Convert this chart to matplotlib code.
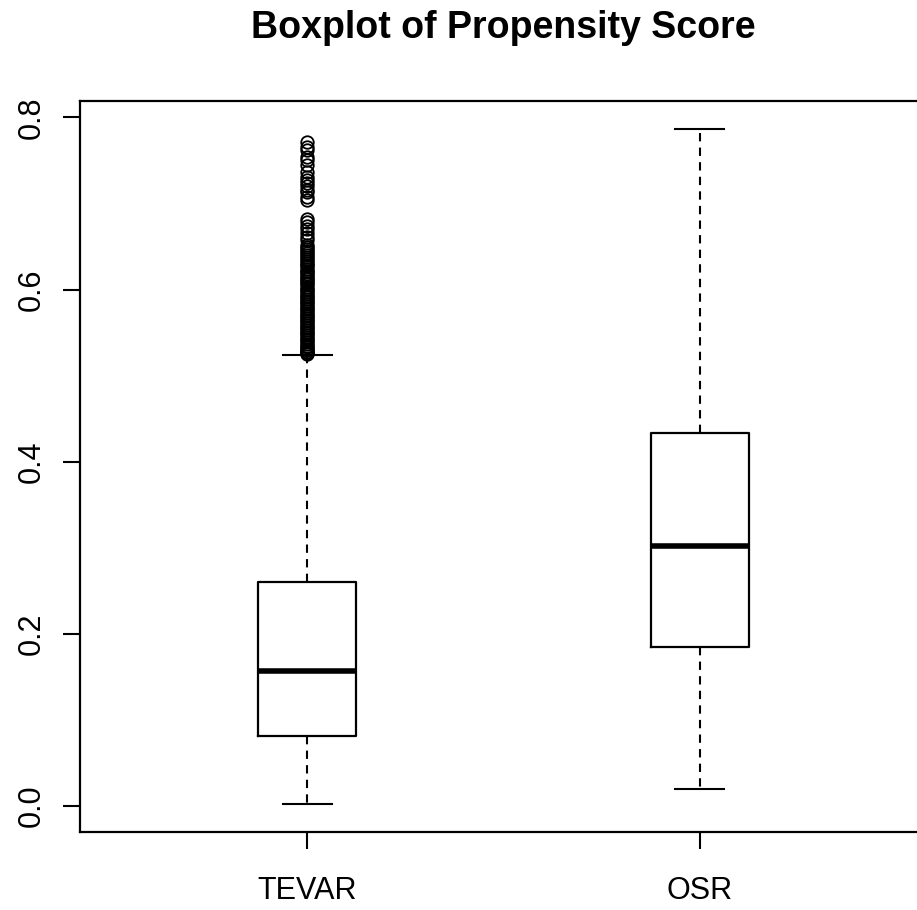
import matplotlib
matplotlib.use("Agg")
import matplotlib.pyplot as plt

plt.rcParams['font.family'] = ['Liberation Sans', 'DejaVu Sans']

categories = ["TEVAR", "OSR"]
q1 = [0.081, 0.185]
median = [0.157, 0.302]
q3 = [0.260, 0.433]
whisker_low = [0.002, 0.020]
whisker_high = [0.524, 0.787]
tevar_outliers = [0.771, 0.766, 0.762, 0.754, 0.750, 0.745, 0.736, 0.731, 0.727,
                  0.724, 0.720, 0.716, 0.713, 0.708, 0.704,
                  0.682, 0.678, 0.674, 0.670, 0.666, 0.661, 0.657, 0.652, 0.650,
                  0.647, 0.645, 0.642, 0.640, 0.638, 0.636, 0.633, 0.631, 0.629,
                  0.627, 0.624, 0.622, 0.620, 0.618, 0.616, 0.614, 0.612, 0.610,
                  0.608, 0.606, 0.603, 0.601, 0.599, 0.597, 0.595, 0.593, 0.591,
                  0.589, 0.587, 0.585, 0.583, 0.581, 0.579, 0.577, 0.575, 0.573,
                  0.571, 0.569, 0.567, 0.565, 0.563, 0.561, 0.559, 0.557, 0.555,
                  0.553, 0.551, 0.549, 0.547, 0.545, 0.543, 0.541, 0.539, 0.537,
                  0.535, 0.533, 0.531, 0.530, 0.528, 0.527, 0.526, 0.525]
osr_outliers = []
fliers = [tevar_outliers, osr_outliers]
yticks = [0.0, 0.2, 0.4, 0.6, 0.8]
title = "Boxplot of Propensity Score"

stats = []
for i, name in enumerate(categories):
    stats.append(dict(label=name, q1=q1[i], med=median[i], q3=q3[i],
                      whislo=whisker_low[i], whishi=whisker_high[i],
                      fliers=fliers[i]))

fig = plt.figure(figsize=(9.17, 9.10), dpi=100)
ax = fig.add_axes([80/917, 1-832/910, (927-80)/917, (832-101)/910])

ax.bxp(stats, positions=[1, 2], widths=0.25, patch_artist=False,
       boxprops=dict(color='black', linewidth=1.6),
       medianprops=dict(color='black', linewidth=4.0, solid_capstyle='butt'),
       whiskerprops=dict(color='black', linewidth=1.5, linestyle=(0, (4, 3))),
       capprops=dict(color='black', linewidth=1.5),
       capwidths=0.127,
       flierprops=dict(marker='o', markerfacecolor='none', markeredgecolor='black',
                       markersize=9, markeredgewidth=1.3, linestyle='none'))

ax.set_xlim(0.42, 2.58)
ax.set_ylim(-0.030, 0.819)
ax.set_yticks(yticks)
ax.set_yticklabels([f"{v:.1f}" for v in yticks], rotation=90, va='center', fontsize=22)
ax.set_xticks([1, 2])
ax.set_xticklabels(categories, fontsize=22)
ax.tick_params(axis='both', direction='out', length=12, width=1.5, colors='black', pad=12)
ax.tick_params(axis='x', pad=20)
for sp in ax.spines.values():
    sp.set_linewidth(1.6)

fig.text(503/917, 1-28/910, title, ha='center', va='center', fontsize=27, fontweight='bold')

fig.savefig("out.png", dpi=100)
